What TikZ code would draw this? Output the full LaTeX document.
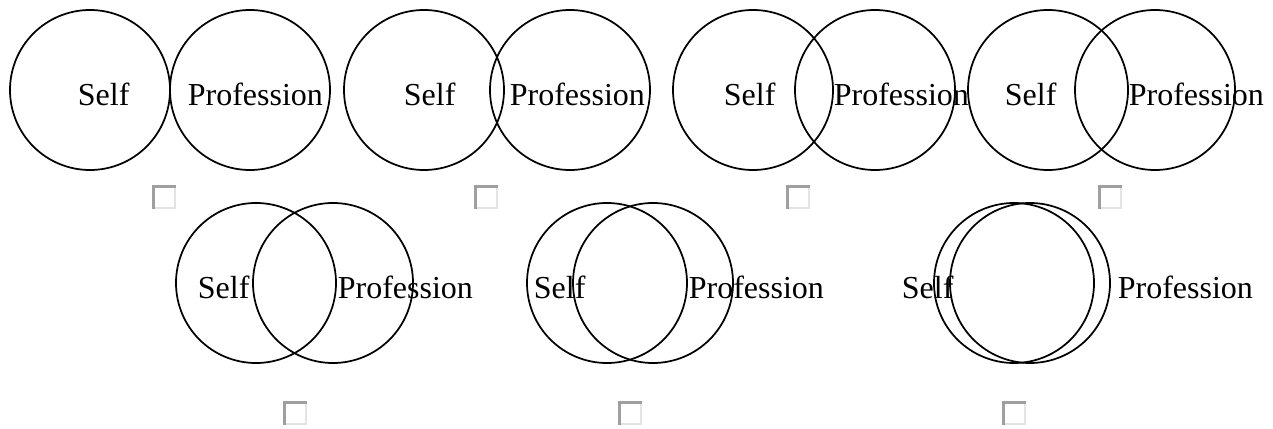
\documentclass[tikz,border=0pt]{standalone}
\usepackage{fontspec}
\setmainfont{Liberation Serif}
\usetikzlibrary{positioning}

\begin{document}
\begin{tikzpicture}[x=0.75pt, y=-0.75pt, line width=1.3pt,
    ring/.style={circle, draw, minimum size=120pt, inner sep=0pt},
    word/.style={anchor=base west, inner sep=0pt, font=\fontsize{24}{28}\selectfont},
    tickbox/.style={rectangle, draw=gray!22, line width=1.5pt, minimum size=16pt, inner sep=0pt},
    edgeline/.style={draw=gray!75, line width=2.2pt}]

    \useasboundingbox (0,0) rectangle (1273,428);

    % first row
    \node[ring] (S1) at (90,90) {};
    \node[ring] (P1) at (250,90) {};
    \node[ring] (S2) at (424,90) {};
    \node[ring] (P2) at (570,90) {};
    \node[ring] (S3) at (753,90) {};
    \node[ring] (P3) at (875,90) {};
    \node[ring] (S4) at (1048,90) {};
    \node[ring] (P4) at (1155,90) {};

    % second row
    \node[ring] (S5) at (256,283) {};
    \node[ring] (P5) at (333,283) {};
    \node[ring] (S6) at (607,283) {};
    \node[ring] (P6) at (653,283) {};
    \node[ring] (S7) at (1014,283) {};
    \node[ring] (P7) at (1030,283) {};

    \node[word] (s1) at (77,105) {Self};
    \node[word] (p1) at (187,105) {Profession};
    \node[word] (s2) at (403,105) {Self};
    \node[word] (p2) at (509,105) {Profession};
    \node[word] (s3) at (723,105) {Self};
    \node[word] (p3) at (833,105) {Profession};
    \node[word] (s4) at (1004,105) {Self};
    \node[word] (p4) at (1128,105) {Profession};
    \node[word] (s5) at (197,298) {Self};
    \node[word] (p5) at (337,298) {Profession};
    \node[word] (s6) at (533,298) {Self};
    \node[word] (p6) at (688,298) {Profession};
    \node[word] (s7) at (901,298) {Self};
    \node[word] (p7) at (1117,298) {Profession};

    % check boxes
    \node[tickbox] (b1) at (164,197) {};
    \node[tickbox] (b2) at (486,197) {};
    \node[tickbox] (b3) at (798,197) {};
    \node[tickbox] (b4) at (1110,197) {};
    \node[tickbox] (b5) at (295,413) {};
    \node[tickbox] (b6) at (630,413) {};
    \node[tickbox] (b7) at (1014,413) {};
    \foreach \b in {b1,b2,b3,b4,b5,b6,b7}
        \draw[edgeline] ([xshift=0.6pt]\b.south west) |- ([yshift=-0.6pt]\b.north east);

\end{tikzpicture}
\end{document}
